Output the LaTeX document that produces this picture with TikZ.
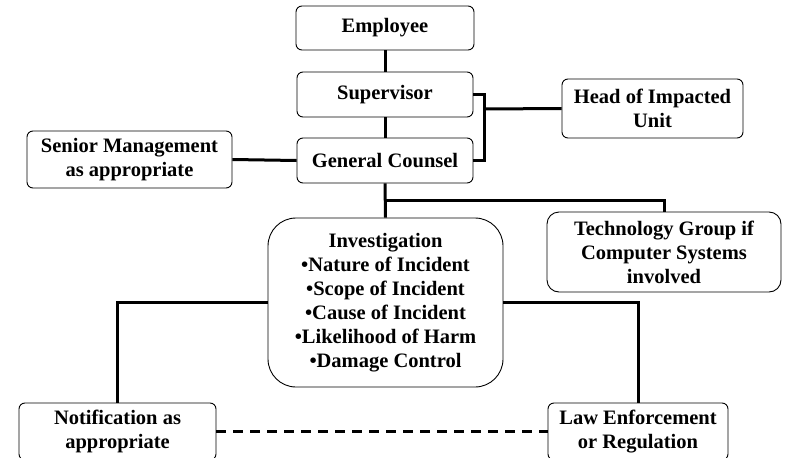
\documentclass[tikz,border=0pt]{standalone}
\usepackage{fontspec}
\setmainfont{Liberation Serif}
\begin{document}
\begin{tikzpicture}[x=1pt,y=-1pt,
  box/.style={draw,line width=0.9pt,rounded corners=6pt,align=center,inner sep=0pt,
    font=\bfseries\fontsize{20.5}{24}\selectfont},
  link/.style={line width=3pt},
  dashlink/.style={line width=3pt,dash pattern=on 10pt off 7pt}]
\useasboundingbox (0,0) rectangle (785,458);
\node[box,minimum width=178pt,minimum height=44pt] (emp) at (385,28) {Employee};
\node[box,minimum width=176pt,minimum height=45pt] (sup) at (385,94.5) {Supervisor};
\node[box,minimum width=176pt,minimum height=45pt] (gc) at (385,160.5) {General Counsel};
\node[box,minimum width=181pt,minimum height=59pt] (head) at (652.5,108.5) {Head of Impacted\\Unit};
\node[box,minimum width=205pt,minimum height=57pt] (sen) at (129.5,159.5) {Senior Management\\as appropriate};
\node[box,rounded corners=12pt,minimum width=234pt,minimum height=80pt] (tech) at (664,252) {Technology Group if\\Computer Systems\\involved};
\node[box,rounded corners=28pt,minimum width=235pt,minimum height=169pt] (inv) at (385.5,302.5)
  {Investigation\\\textbullet Nature of Incident\\\textbullet Scope of Incident\\\textbullet Cause of Incident\\\textbullet Likelihood of Harm\\\textbullet Damage Control};
\node[box,minimum width=197pt,minimum height=57pt] (notif) at (117.5,431.5) {Notification as\\appropriate};
\node[box,minimum width=180pt,minimum height=57pt] (law) at (638,431.5) {Law Enforcement\\or Regulation};
\coordinate (br) at (484,109);
\coordinate (split) at (385,200);
\draw[link] (emp.south) -- (sup.north);
\draw[link] (sup.south) -- (gc.north);
\draw[link] (sup.east) -- ++(11,0) |- (gc.east);
\draw[link] (head.west) -- (br);
\draw[link] (sen.east) -- (gc.west);
\draw[link] (gc.south) -- (inv.north);
\draw[link] (split) -| (tech.north);
\draw[link] (inv.west) -| (notif.north);
\draw[link] (inv.east) -| (law.north);
\draw[dashlink] (notif.east) -- (law.west);
\end{tikzpicture}
\end{document}
